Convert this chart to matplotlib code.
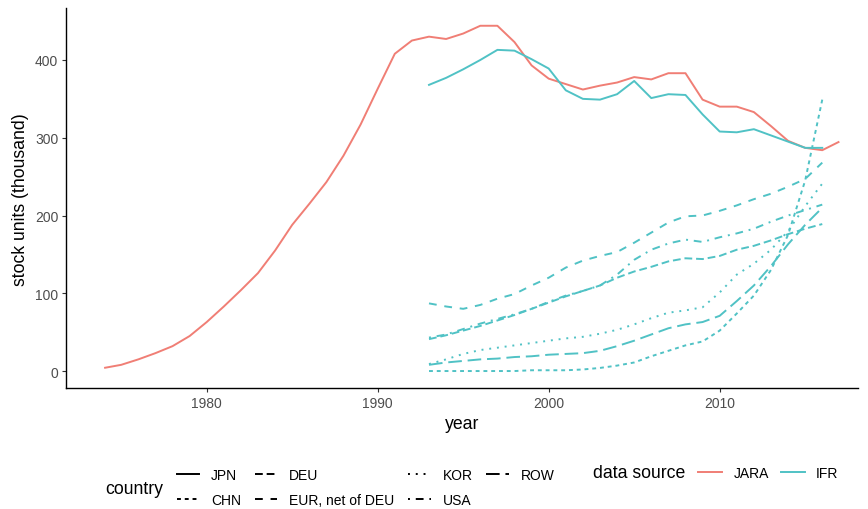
"""Industrial robot stock by country, JARA vs IFR data sources."""

import matplotlib

matplotlib.use("Agg")
import matplotlib.pyplot as plt
from matplotlib.lines import Line2D

plt.rcParams["font.family"] = ["Liberation Sans", "DejaVu Sans"]

# JARA series (Japan only), thousand units
JARA_YEARS = list(range(1974, 2018))
JARA_JPN = [
    4, 8, 15, 23, 32, 45, 63, 83, 104, 126,
    155, 188, 215, 243, 277, 317, 363, 408, 425, 430,
    427, 434, 444, 444, 423, 393, 376, 369, 362, 367,
    371, 378, 375, 383, 383, 349, 340, 340, 333, 315,
    296, 287, 284, 295,
]

# IFR series, thousand units
IFR_YEARS = list(range(1993, 2017))
IFR_JPN = [368, 377, 388, 400, 413, 412, 401, 389, 361, 350, 349, 356,
           373, 351, 356, 355, 330, 308, 307, 311, 303, 295, 287, 287]
IFR_CHN = [0, 0, 0, 0, 0, 0, 1, 1, 1, 2, 4, 7,
           11, 19, 26, 33, 38, 52, 74, 97, 130, 175, 245, 349]
IFR_DEU = [41, 46, 52, 58, 65, 72, 80, 88, 96, 103, 110, 120,
           128, 134, 141, 145, 144, 148, 156, 161, 168, 176, 183, 189]
IFR_EUR = [87, 83, 80, 85, 93, 99, 110, 120, 133, 142, 148, 153,
           165, 178, 191, 199, 200, 206, 213, 221, 228, 237, 247, 268]
IFR_KOR = [9, 15, 22, 27, 30, 33, 36, 39, 42, 44, 48, 53,
           60, 68, 75, 78, 82, 101, 124, 138, 156, 180, 212, 241]
IFR_USA = [43, 47, 54, 61, 67, 73, 80, 89, 97, 103, 110, 124,
           143, 156, 164, 169, 166, 172, 177, 183, 192, 200, 207, 214]
IFR_ROW = [8, 11, 13, 15, 16, 18, 19, 21, 22, 23, 26, 32,
           39, 47, 55, 60, 63, 71, 90, 110, 135, 163, 188, 210]

COUNTRIES = ["JPN", "CHN", "DEU", "EUR, net of DEU", "KOR", "USA", "ROW"]
IFR_SERIES = [IFR_JPN, IFR_CHN, IFR_DEU, IFR_EUR, IFR_KOR, IFR_USA, IFR_ROW]

# ggplot default linetypes: solid, 22, 42, 44, 13, 1343, 73
LINESTYLES = [
    "-",
    (0, (2, 2)),
    (0, (4, 2)),
    (0, (4, 4)),
    (0, (1, 3)),
    (0, (1, 3, 4, 3)),
    (0, (7, 3)),
]

JARA_COLOR = "#F07E75"
IFR_COLOR = "#50C2C5"
LW = 1.4

W, H = 868, 510
fig = plt.figure(figsize=(W / 100, H / 100), dpi=100)
ax = fig.add_axes([66 / W, 1 - 389.3 / H, (858 - 66) / W, (389.3 - 9.5) / H])

ax.plot(JARA_YEARS, JARA_JPN, color=JARA_COLOR, lw=LW, solid_capstyle="butt")
for series, style in zip(IFR_SERIES, LINESTYLES):
    ax.plot(IFR_YEARS, series, color=IFR_COLOR, lw=LW, linestyle=style,
            dash_capstyle="butt")

ax.set_xlim(1971.77, 2018.09)
ax.set_ylim(-22.2, 466.2)
ax.set_xticks([1980, 1990, 2000, 2010])
ax.set_yticks([0, 100, 200, 300, 400])

for side in ("top", "right"):
    ax.spines[side].set_visible(False)
for side in ("left", "bottom"):
    ax.spines[side].set_linewidth(1.0)
    ax.spines[side].set_color("black")

ax.tick_params(length=3, width=0.8, color="#333333", labelsize=10,
               labelcolor="#4D4D4D", pad=2.5)
ax.set_xlabel("year", fontsize=12.7, labelpad=4)
ax.set_ylabel("stock units (thousand)", fontsize=12.7, labelpad=4)

# country legend (linetype)
country_handles = [Line2D([], [], color="black", lw=LW, linestyle=s,
                          dash_capstyle="butt") for s in LINESTYLES]
fig.legend(country_handles, COUNTRIES, ncol=4, loc="center left",
           bbox_to_anchor=(177 / W, 1 - 488.5 / H), frameon=False,
           fontsize=10, handlelength=1.6, handletextpad=0.86,
           columnspacing=1.0, labelspacing=0.8, borderpad=0, borderaxespad=0)
fig.text(105 / W, 1 - 490 / H, "country", fontsize=12.7, va="center", ha="left")

# data source legend (colour)
source_handles = [Line2D([], [], color=JARA_COLOR, lw=LW),
                  Line2D([], [], color=IFR_COLOR, lw=LW)]
fig.legend(source_handles, ["JARA", "IFR"], ncol=2, loc="center left",
           bbox_to_anchor=(698 / W, 1 - 474 / H), frameon=False,
           fontsize=10, handlelength=1.75, handletextpad=0.8,
           columnspacing=0.85, borderpad=0, borderaxespad=0)
fig.text(593 / W, 1 - 474 / H, "data source", fontsize=12.7, va="center", ha="left")

fig.savefig("out.png", dpi=100)
